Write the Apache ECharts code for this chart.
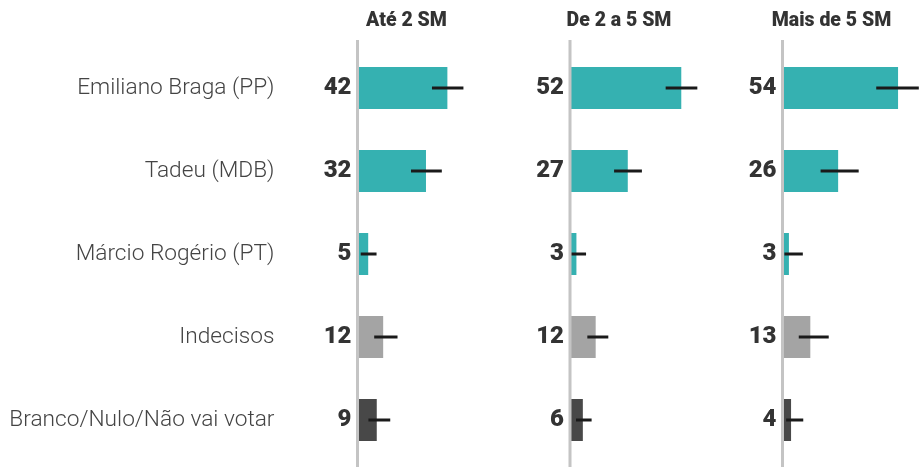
<!DOCTYPE html>
<html>
<head>
<meta charset="utf-8">
<script src="https://cdn.jsdelivr.net/npm/echarts@6/dist/echarts.min.js"></script>
<style>html,body{margin:0;padding:0;background:#fff}#c{width:919px;height:467px}</style>
</head>
<body>
<div id="c"></div>
<script>
const categories = ['Emiliano Braga (PP)', 'Tadeu (MDB)', 'Márcio Rogério (PT)', 'Indecisos', 'Branco/Nulo/Não vai votar'];
const groups = ['Até 2 SM', 'De 2 a 5 SM', 'Mais de 5 SM'];
const values1 = [42, 32, 5, 12, 9];
const values2 = [52, 27, 3, 12, 6];
const values3 = [54, 26, 3, 13, 4];
const errLow1 = [34.8, 25.0, 1.5, 7.8, 5.1];
const errHigh1 = [49.5, 39.4, 8.9, 18.7, 15.3];
const errLow2 = [44.7, 20.6, 0.5, 8.1, 2.8];
const errHigh2 = [59.5, 33.6, 7.5, 17.9, 10.1];
const errLow3 = [43.8, 17.8, 0.9, 7.6, 1.7];
const errHigh3 = [63.7, 35.6, 9.5, 21.6, 9.7];

const barColors = ['#35b1b1', '#35b1b1', '#35b1b1', '#a4a4a4', '#484848'];
const panelLeft = [357.5, 570, 782.5];
const values = [values1, values2, values3];
const lows = [errLow1, errLow2, errLow3];
const highs = [errHigh1, errHigh2, errHigh3];

const chart = echarts.init(document.getElementById('c'), null, {renderer: 'canvas'});
const grids = [], xAxes = [], yAxes = [], series = [], titles = [];
groups.forEach((g, i) => {
  grids.push({left: panelLeft[i], top: 46.5, height: 415, width: 128.4, containLabel: false});
  xAxes.push({gridIndex: i, type: 'value', min: 0, max: 60, show: false});
  yAxes.push({
    gridIndex: i, type: 'category', data: categories, inverse: true,
    axisLine: {show: false}, axisTick: {show: false},
    axisLabel: {show: i === 0, margin: 83, fontFamily: 'Roboto', fontWeight: 300, fontSize: 22.7, color: '#444'}
  });
  titles.push({
    text: g, left: panelLeft[i] + 44, top: 6, textAlign: 'center',
    textStyle: {fontFamily: 'Roboto', fontWeight: 900, fontSize: 19.5, color: '#333'}
  });
  series.push({
    type: 'bar', xAxisIndex: i, yAxisIndex: i, barWidth: 42,
    data: values[i].map((v, k) => ({value: v, itemStyle: {color: barColors[k]}})),
    label: {show: true, position: 'left', distance: 6, fontFamily: 'Roboto', fontWeight: 900, fontSize: 24, color: '#333'},
    silent: true
  });
  series.push({
    type: 'custom', xAxisIndex: i, yAxisIndex: i, z: 5, clip: false,
    data: categories.map((c, k) => [k, lows[i][k], highs[i][k]]),
    encode: {x: [1, 2], y: 0},
    renderItem: function (params, api) {
      const k = api.value(0);
      const p1 = api.coord([api.value(1), k]);
      const p2 = api.coord([api.value(2), k]);
      return {type: 'line', shape: {x1: p1[0], y1: p1[1], x2: p2[0], y2: p2[1]},
        style: {stroke: '#1a1a1a', lineWidth: 3}};
    },
    silent: true
  });
});

chart.setOption({
  animation: false,
  title: titles,
  grid: grids, xAxis: xAxes, yAxis: yAxes, series: series
});

const lines = groups.map((g, i) => {
  const x = chart.convertToPixel({xAxisIndex: i}, 0);
  return {type: 'line', z: 100, shape: {x1: x, y1: 40, x2: x, y2: 467},
    style: {stroke: '#c4c4c4', lineWidth: 3}, silent: true};
});
chart.setOption({graphic: lines});
</script>
</body>
</html>
